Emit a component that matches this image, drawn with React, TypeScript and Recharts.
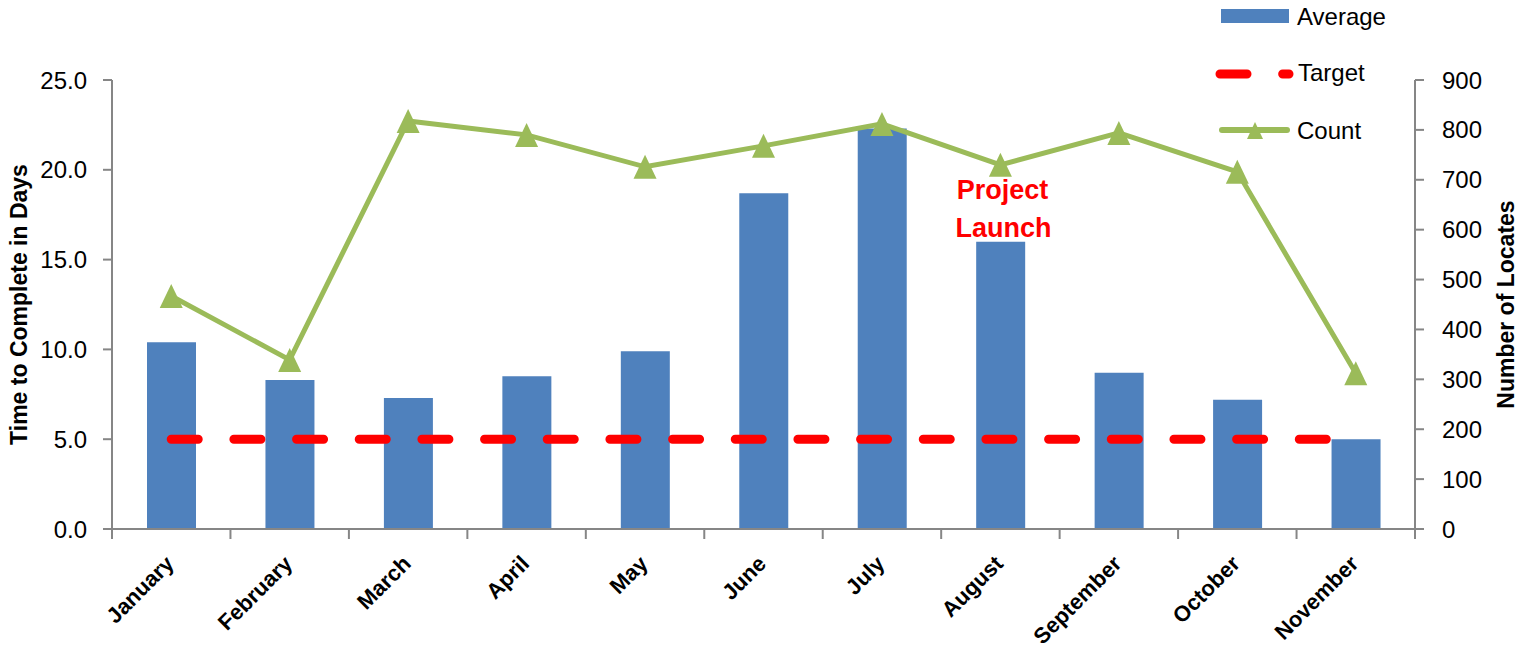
import React from 'react';
import { ComposedChart, Bar, Line, XAxis, YAxis, Legend, ReferenceDot } from 'recharts';

const months = ['January', 'February', 'March', 'April', 'May', 'June', 'July', 'August', 'September', 'October', 'November'];
const averageDays = [10.4, 8.3, 7.3, 8.5, 9.9, 18.7, 22.3, 16.0, 8.7, 7.2, 5.0];
const targetDays = [5, 5, 5, 5, 5, 5, 5, 5, 5, 5, 5];
const locateCounts = [467, 339, 818, 790, 726, 768, 812, 730, 794, 716, 312];
const leftTicks = [0, 5, 10, 15, 20, 25];
const rightTicks = [0, 100, 200, 300, 400, 500, 600, 700, 800, 900];
const seriesNames = { average: 'Average', target: 'Target', count: 'Count' };
const annotationLines = ['Project', 'Launch'];
const annotationMonth = 'August';
const annotationValue = 18.4;

const data = months.map((m, i) => ({
  month: m,
  average: averageDays[i],
  target: targetDays[i],
  count: locateCounts[i],
}));

const FONT = '"Liberation Sans", Arial, sans-serif';
const GRAY = '#868686';
const BLUE = '#4F81BD';
const GREEN = '#9BBB59';
const RED = '#FF0000';
const TARGET_DASH = '27 35.67';

const MonthTick = (props: any) => {
  const { x, y, payload, index } = props;
  const half = payload && typeof payload.offset === 'number' ? payload.offset : 0;
  const lx = x + 4;
  const ly = y + 36;
  return (
    <g>
      <line x1={x - half} y1={y} x2={x - half} y2={y + 10} stroke={GRAY} strokeWidth={2} />
      {index === months.length - 1 && (
        <line x1={x + half} y1={y} x2={x + half} y2={y + 10} stroke={GRAY} strokeWidth={2} />
      )}
      <text
        x={lx}
        y={ly}
        transform={`rotate(-45 ${lx} ${ly})`}
        textAnchor="end"
        fontFamily={FONT}
        fontWeight="bold"
        fontSize={22}
        fill="#000"
      >
        {payload.value}
      </text>
    </g>
  );
};

const TriangleDot = (props: any) => {
  const { cx, cy, index } = props;
  if (cx == null || cy == null) return <g key={`t-${index}`} />;
  return (
    <polygon
      key={`t-${index}`}
      points={`${cx},${cy - 12} ${cx - 11.5},${cy + 12} ${cx + 11.5},${cy + 12}`}
      fill={GREEN}
    />
  );
};

const LegendContent = (props: any) => {
  const payload: any[] = props.payload || [];
  const byKey: Record<string, string> = {};
  payload.forEach((p) => {
    byKey[p.dataKey] = p.value;
  });
  const txt = { fontFamily: FONT, fontSize: 24, fill: '#000' } as any;
  return (
    <svg width={240} height={150} style={{ display: 'block' }}>
      <rect x={21} y={9} width={68} height={14} fill={BLUE} />
      <text x={97} y={25} {...txt}>{byKey.average || seriesNames.average}</text>
      <line x1={20} y1={74} x2={89} y2={74} stroke={RED} strokeWidth={9} strokeDasharray={TARGET_DASH} strokeLinecap="round" />
      <text x={98} y={81} {...txt}>{byKey.target || seriesNames.target}</text>
      <line x1={22} y1={130} x2={87} y2={130} stroke={GREEN} strokeWidth={6} strokeLinecap="round" />
      <polygon points="55,122 47,139 63,139" fill={GREEN} />
      <text x={97} y={139} {...txt}>{byKey.count || seriesNames.count}</text>
    </svg>
  );
};

const leftTitle = (props: any) => {
  const vb = props.viewBox || {};
  const cx = vb.x + 19;
  const cy = vb.y + vb.height / 2;
  return (
    <text
      x={cx}
      y={cy}
      transform={`rotate(-90 ${cx} ${cy})`}
      textAnchor="middle"
      dominantBaseline="central"
      fontFamily={FONT}
      fontWeight="bold"
      fontSize={23}
      fill="#000"
    >
      Time to Complete in Days
    </text>
  );
};

const rightTitle = (props: any) => {
  const vb = props.viewBox || {};
  const cx = vb.x + 91;
  const cy = vb.y + vb.height / 2;
  return (
    <text
      x={cx}
      y={cy}
      transform={`rotate(-90 ${cx} ${cy})`}
      textAnchor="middle"
      dominantBaseline="central"
      fontFamily={FONT}
      fontWeight="bold"
      fontSize={23}
      fill="#000"
    >
      Number of Locates
    </text>
  );
};

const AnnotationShape = (props: any) => {
  const { cx, cy } = props;
  if (cx == null || cy == null) return <g />;
  return (
    <text x={cx} y={cy} textAnchor="middle" fontFamily={FONT} fontWeight="bold" fontSize={27} fill={RED}>
      <tspan x={cx + 2} dy={0}>{annotationLines[0]}</tspan>
      <tspan x={cx + 3} dy={38}>{annotationLines[1]}</tspan>
    </text>
  );
};

export default function App() {
  return (
    <div style={{ position: 'absolute', left: 0, top: 0, background: '#fff' }}>
      <ComposedChart width={1522} height={654} data={data} margin={{ top: 80, right: 0, bottom: 0, left: 0 }}>
        <XAxis
          dataKey="month"
          height={125}
          interval={0}
          tickLine={false}
          tickSize={0}
          tickMargin={0}
          axisLine={{ stroke: GRAY, strokeWidth: 2 }}
          tick={<MonthTick />}
        />
        <YAxis
          yAxisId="left"
          orientation="left"
          width={112}
          domain={[0, 25]}
          ticks={leftTicks}
          interval={0}
          tickFormatter={(v: number) => v.toFixed(1)}
          tickSize={9}
          tickMargin={16}
          axisLine={{ stroke: GRAY, strokeWidth: 2 }}
          tickLine={{ stroke: GRAY, strokeWidth: 2 }}
          tick={{ fontSize: 24, fill: '#000', fontFamily: FONT }}
          label={{ content: leftTitle }}
        />
        <YAxis
          yAxisId="right"
          orientation="right"
          width={107}
          domain={[0, 900]}
          ticks={rightTicks}
          interval={0}
          tickSize={9}
          tickMargin={18}
          axisLine={{ stroke: GRAY, strokeWidth: 2 }}
          tickLine={{ stroke: GRAY, strokeWidth: 2 }}
          tick={{ fontSize: 24, fill: '#000', fontFamily: FONT, textAnchor: 'start' }}
          label={{ content: rightTitle }}
        />
        <Legend
          layout="vertical"
          align="center"
          verticalAlign="middle"
          content={<LegendContent />}
          wrapperStyle={{ position: 'absolute', left: 1200, top: 0, width: 240, height: 150 }}
        />
        <Bar yAxisId="left" dataKey="average" name={seriesNames.average} fill={BLUE} barSize={49} isAnimationActive={false} />
        <Line
          yAxisId="left"
          dataKey="target"
          name={seriesNames.target}
          stroke={RED}
          strokeWidth={9}
          strokeDasharray={TARGET_DASH}
          strokeLinecap="round"
          dot={false}
          activeDot={false}
          isAnimationActive={false}
        />
        <Line
          yAxisId="right"
          dataKey="count"
          name={seriesNames.count}
          stroke={GREEN}
          strokeWidth={5}
          dot={<TriangleDot />}
          activeDot={false}
          isAnimationActive={false}
        />
        <ReferenceDot
          yAxisId="left"
          x={annotationMonth}
          y={annotationValue}
          r={0}
          shape={<AnnotationShape />}
        />
      </ComposedChart>
    </div>
  );
}
